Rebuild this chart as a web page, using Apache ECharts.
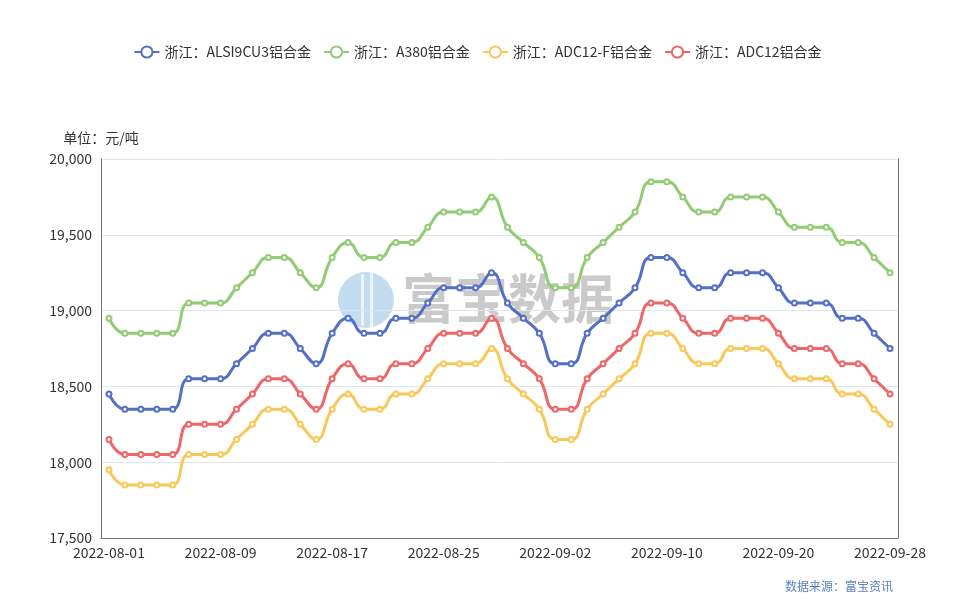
<!DOCTYPE html>
<html>
<head>
<meta charset="utf-8">
<script src="https://cdn.jsdelivr.net/npm/echarts@6/dist/echarts.min.js"></script>
<style>html,body{margin:0;padding:0;background:#fff}#c{width:955px;height:600px}</style>
</head>
<body>
<div id="c"></div>
<script>
var categories = ["2022-08-01","2022-08-02","2022-08-03","2022-08-04","2022-08-05","2022-08-06","2022-08-08","2022-08-09","2022-08-10","2022-08-11","2022-08-12","2022-08-13","2022-08-15","2022-08-16","2022-08-17","2022-08-18","2022-08-19","2022-08-20","2022-08-22","2022-08-23","2022-08-24","2022-08-25","2022-08-26","2022-08-27","2022-08-29","2022-08-30","2022-08-31","2022-09-01","2022-09-02","2022-09-03","2022-09-05","2022-09-06","2022-09-07","2022-09-08","2022-09-09","2022-09-10","2022-09-13","2022-09-14","2022-09-15","2022-09-16","2022-09-17","2022-09-19","2022-09-20","2022-09-21","2022-09-22","2022-09-23","2022-09-24","2022-09-26","2022-09-27","2022-09-28"];
var seriesNames = ["浙江：ALSI9CU3铝合金","浙江：A380铝合金","浙江：ADC12-F铝合金","浙江：ADC12铝合金"];
var alsi9cu3 = [18450,18350,18350,18350,18350,18550,18550,18550,18650,18750,18850,18850,18750,18650,18850,18950,18850,18850,18950,18950,19050,19150,19150,19150,19250,19050,18950,18850,18650,18650,18850,18950,19050,19150,19350,19350,19250,19150,19150,19250,19250,19250,19150,19050,19050,19050,18950,18950,18850,18750];
var a380 = [18950,18850,18850,18850,18850,19050,19050,19050,19150,19250,19350,19350,19250,19150,19350,19450,19350,19350,19450,19450,19550,19650,19650,19650,19750,19550,19450,19350,19150,19150,19350,19450,19550,19650,19850,19850,19750,19650,19650,19750,19750,19750,19650,19550,19550,19550,19450,19450,19350,19250];
var adc12f = [17950,17850,17850,17850,17850,18050,18050,18050,18150,18250,18350,18350,18250,18150,18350,18450,18350,18350,18450,18450,18550,18650,18650,18650,18750,18550,18450,18350,18150,18150,18350,18450,18550,18650,18850,18850,18750,18650,18650,18750,18750,18750,18650,18550,18550,18550,18450,18450,18350,18250];
var adc12 = [18150,18050,18050,18050,18050,18250,18250,18250,18350,18450,18550,18550,18450,18350,18550,18650,18550,18550,18650,18650,18750,18850,18850,18850,18950,18750,18650,18550,18350,18350,18550,18650,18750,18850,19050,19050,18950,18850,18850,18950,18950,18950,18850,18750,18750,18750,18650,18650,18550,18450];
var colors = ["#5470c6","#91cc75","#fac858","#ee6666"];
var yMin = 17500, yMax = 20000, yInterval = 500;
var unitLabel = "单位：元/吨";
var sourceLabel = "数据来源：富宝资讯";
var watermark = "富宝数据";

var font = "'Noto Sans CJK SC', 'Microsoft YaHei', sans-serif";
var chart = echarts.init(document.getElementById('c'));
function mk(name, data, color) {
  return {
    name: name, type: 'line', data: data, smooth: true,
    symbol: 'emptyCircle', symbolSize: 5, showSymbol: true,
    lineStyle: { width: 3, color: color },
    itemStyle: { color: color, borderWidth: 1.5 }
  };
}
chart.setOption({
  animation: false,
  color: colors,
  textStyle: { fontFamily: font },
  legend: {
    top: 40, left: 'center', itemWidth: 25, itemHeight: 14, itemGap: 12,
    textStyle: { fontSize: 14, color: '#333', fontFamily: font },
    data: seriesNames
  },
  grid: { left: 101, right: 57, top: 159, bottom: 62, containLabel: false },
  xAxis: {
    type: 'category', data: categories, boundaryGap: true,
    axisLine: { lineStyle: { color: '#6e7079' } },
    axisTick: { interval: 6, lineStyle: { color: '#6e7079' } },
    axisLabel: { interval: 6, fontSize: 14, color: '#333', margin: 8, fontFamily: font }
  },
  yAxis: [{
    type: 'value', min: yMin, max: yMax, interval: yInterval,
    name: unitLabel, nameGap: 14,
    nameTextStyle: { fontSize: 14, color: '#333', fontFamily: font },
    axisLine: { show: true, lineStyle: { color: '#6e7079' } },
    axisTick: { show: false },
    axisLabel: { fontSize: 14, color: '#333', margin: 9, fontFamily: font },
    splitLine: { lineStyle: { color: '#e0e6f1' } }
  }, {
    type: 'value', min: yMin, max: yMax, interval: yInterval, position: 'right',
    axisLine: { show: true, lineStyle: { color: '#6e7079' } },
    axisTick: { show: false }, axisLabel: { show: false }, splitLine: { show: false }
  }],
  graphic: [
    { type: 'circle', shape: { cx: 366, cy: 300, r: 28 }, style: { fill: 'rgba(150,190,225,0.55)' }, z: 0 },
    { type: 'rect', shape: { x: 361, y: 274, width: 3, height: 52 }, style: { fill: 'rgba(255,255,255,0.7)' }, z: 0 },
    { type: 'rect', shape: { x: 370, y: 272, width: 3, height: 56 }, style: { fill: 'rgba(255,255,255,0.7)' }, z: 0 },
    { type: 'text', left: 402, top: 272, style: { text: watermark, fontSize: 53, fontWeight: 'bold', fill: 'rgba(150,150,150,0.5)', fontFamily: font }, z: 0 },
    { type: 'text', right: 62, top: 580, style: { text: sourceLabel, fontSize: 12, fill: '#5b7fbf', fontFamily: font } }
  ],
  series: [
    mk(seriesNames[0], alsi9cu3, colors[0]),
    mk(seriesNames[1], a380, colors[1]),
    mk(seriesNames[2], adc12f, colors[2]),
    mk(seriesNames[3], adc12, colors[3])
  ]
});
</script>
</body>
</html>
